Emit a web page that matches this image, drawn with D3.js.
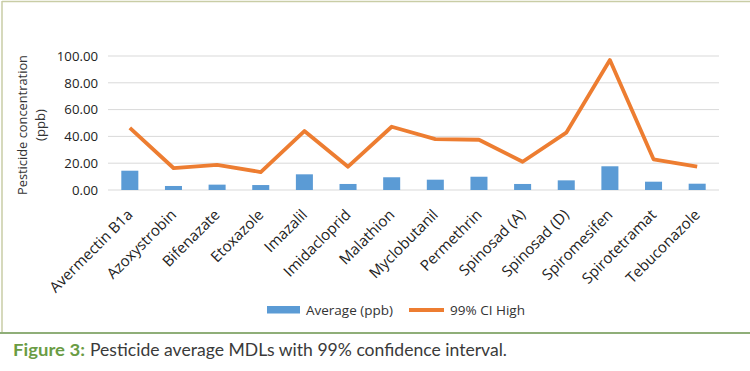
<!DOCTYPE html>
<html><head><meta charset="utf-8">
<script src="https://cdn.jsdelivr.net/npm/d3@7"></script>
<style>
html,body{margin:0;padding:0;background:#fff;}
svg{display:block;font-family:"Open Sans",Lato,sans-serif;}
</style></head>
<body><svg id="c" width="750" height="371"></svg>
<script>
const categories = ["Avermectin B1a","Azoxystrobin","Bifenazate","Etoxazole","Imazalil","Imidacloprid","Malathion","Myclobutanil","Permethrin","Spinosad (A)","Spinosad (D)","Spiromesifen","Spirotetramat","Tebuconazole"];
const average = [14.4, 3.0, 4.0, 3.7, 11.7, 4.5, 9.5, 7.7, 9.9, 4.5, 7.2, 17.7, 6.2, 4.7];
const ciHigh = [46.3, 16.4, 18.7, 13.4, 44.0, 17.4, 47.2, 38.0, 37.5, 21.1, 42.8, 97.0, 22.9, 17.4];
const yTicks = [0, 20, 40, 60, 80, 100];
const seriesNames = ["Average (ppb)", "99% CI High"];

const svg = d3.select("#c");
const blue = "#5b9bd5", orange = "#ed7d31";

// frame
svg.append("line").attr("x1",2).attr("x2",750).attr("y1",1.5).attr("y2",1.5).attr("stroke","#c9cda6").attr("stroke-width",1.5);
svg.append("line").attr("x1",2).attr("x2",2).attr("y1",1).attr("y2",333).attr("stroke","#c9cda6").attr("stroke-width",1.5);
svg.append("line").attr("x1",0).attr("x2",750).attr("y1",333).attr("y2",333).attr("stroke","#8fae78").attr("stroke-width",2);

const x = d3.scaleBand().domain(categories).range([108, 719]).paddingInner(0.61).paddingOuter(0.305);
const y = d3.scaleLinear().domain([0, 100]).range([190, 56]);

// gridlines
svg.append("g").selectAll("line").data(yTicks).join("line")
  .attr("x1",108).attr("x2",719)
  .attr("y1",d=>y(d)).attr("y2",d=>y(d))
  .attr("stroke","#d9d9d9").attr("stroke-width",1);

// y axis labels
const yAxis = d3.axisLeft(y).tickValues(yTicks).tickFormat(d3.format(".2f")).tickSize(0).tickPadding(0);
const gy = svg.append("g").attr("transform","translate(98,0)").call(yAxis);
gy.select(".domain").remove();
gy.selectAll("text").attr("font-size",13.2).attr("fill","#222").attr("font-family","'Open Sans',sans-serif");

// y title
const yt = svg.append("text").attr("transform","translate(27,125) rotate(-90)")
  .attr("text-anchor","middle").attr("font-size",13.2).attr("fill","#333");
yt.append("tspan").attr("x",0).attr("dy",0).attr("textLength",140).attr("lengthAdjust","spacingAndGlyphs").text("Pesticide concentration");
yt.append("tspan").attr("x",0).attr("dy","1.35em").text("(ppb)");

// bars
svg.append("g").selectAll("rect").data(categories).join("rect")
  .attr("x",d=>x(d)).attr("width",x.bandwidth())
  .attr("y",(d,i)=>y(average[i])).attr("height",(d,i)=>y(0)-y(average[i]))
  .attr("fill",blue);

// line
const line = d3.line().x((d,i)=>x(categories[i])+x.bandwidth()/2).y(d=>y(d));
svg.append("path").datum(ciHigh).attr("d",line)
  .attr("fill","none").attr("stroke",orange).attr("stroke-width",3.8).attr("stroke-linejoin","round");

// x labels
const xAxis = d3.axisBottom(x).tickSize(0).tickPadding(0);
const gx = svg.append("g").attr("transform","translate(0,190)").call(xAxis);
gx.select(".domain").remove();
gx.selectAll("text")
  .attr("font-size",15).attr("fill","#222").attr("font-family","'Open Sans',sans-serif")
  .attr("text-anchor","end").attr("y",0).attr("dy","0.35em")
  .attr("transform","translate(0,22) rotate(-45)");

// legend
const lg = svg.append("g");
lg.append("rect").attr("x",267).attr("y",306).attr("width",33).attr("height",7.5).attr("fill",blue);
lg.append("text").attr("x",306).attr("y",315).attr("font-size",13.5).attr("fill","#333")
  .attr("textLength",87).attr("lengthAdjust","spacingAndGlyphs").text(seriesNames[0]);
lg.append("line").attr("x1",409).attr("x2",444).attr("y1",310).attr("y2",310).attr("stroke",orange).attr("stroke-width",3.8);
lg.append("text").attr("x",450).attr("y",315).attr("font-size",13.5).attr("fill","#333")
  .attr("textLength",75).attr("lengthAdjust","spacingAndGlyphs").text(seriesNames[1]);

// caption
svg.append("text").attr("x",13).attr("y",356).attr("font-size",17.5).attr("font-weight","bold").attr("fill","#6a9c44")
  .attr("font-family","Lato,sans-serif")
  .attr("textLength",72).attr("lengthAdjust","spacingAndGlyphs").text("Figure 3:");
svg.append("text").attr("x",90).attr("y",356).attr("font-size",17.5).attr("fill","#3a3a3a")
  .attr("font-family","Lato,sans-serif")
  .attr("textLength",417).attr("lengthAdjust","spacingAndGlyphs").text("Pesticide average MDLs with 99% confidence interval.");
</script></body></html>
